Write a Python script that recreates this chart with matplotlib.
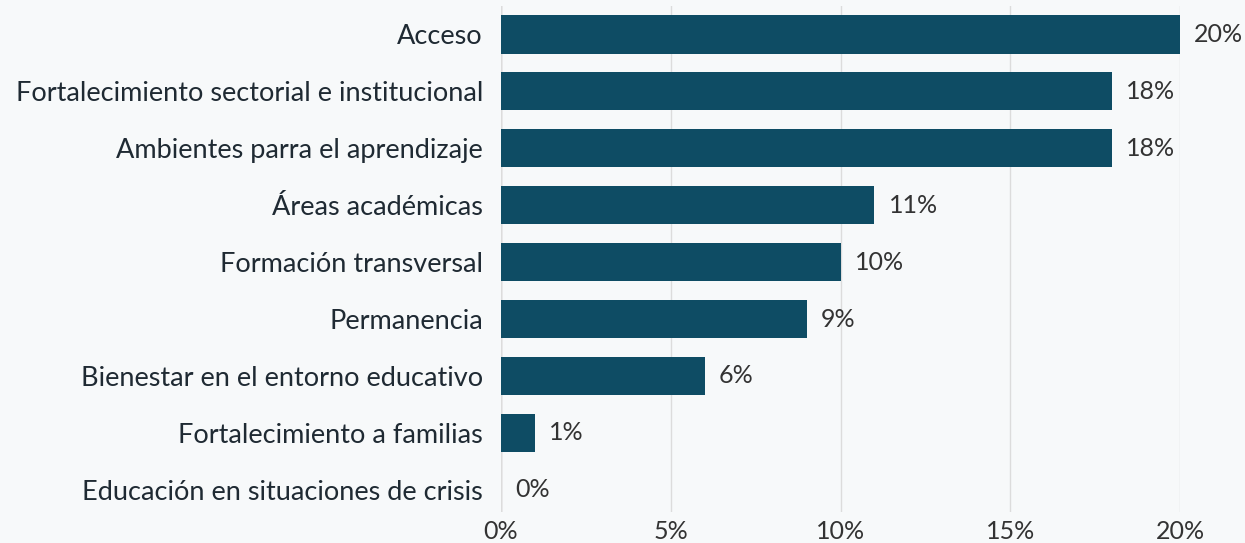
import matplotlib.pyplot as plt
import numpy as np

# datos
categorias = [
    'Acceso',
    'Fortalecimiento sectorial e institucional',
    'Ambientes parra el aprendizaje',
    'Áreas académicas',
    'Formación transversal',
    'Permanencia',
    'Bienestar en el entorno educativo',
    'Fortalecimiento a familias',
    'Educación en situaciones de crisis',
]
valores = [20, 18, 18, 11, 10, 9, 6, 1, 0]
xticks = [0, 5, 10, 15, 20]

color_barra = '#0e4c64'
fondo = '#f7f9fa'

plt.rcParams['font.family'] = ['Lato', 'DejaVu Sans']

fig = plt.figure(figsize=(12.45, 5.43), dpi=100, facecolor=fondo)
ax = fig.add_axes([501 / 1245, 1 - 512 / 543, (1180 - 501) / 1245, (512 - 6) / 543])
ax.set_facecolor(fondo)

y = np.arange(len(categorias))
ax.barh(y, valores, height=0.67, color=color_barra, zorder=3)

for yi, v in zip(y, valores):
    ax.text(v + 0.42, yi, f'{v}%', va='center', ha='left', fontsize=18, color='#333333')

ax.set_yticks(y)
ax.set_yticklabels(categorias, fontsize=19.5, color='#1f2a33')
ax.set_ylim(8.39, -0.5)
ax.set_xlim(0, 20)
ax.set_xticks(xticks)
ax.set_xticklabels([f'{t}%' for t in xticks], fontsize=18, color='#333333')

ax.tick_params(axis='both', length=0)
ax.tick_params(axis='y', pad=13)
ax.tick_params(axis='x', pad=6)
for s in ax.spines.values():
    s.set_visible(False)
ax.grid(axis='x', color='#dcdcdc', linewidth=1, zorder=0)
ax.axvline(0, color='#bbbbbb', linewidth=1, zorder=1)

fig.savefig('out.png', dpi=100, facecolor=fondo)
